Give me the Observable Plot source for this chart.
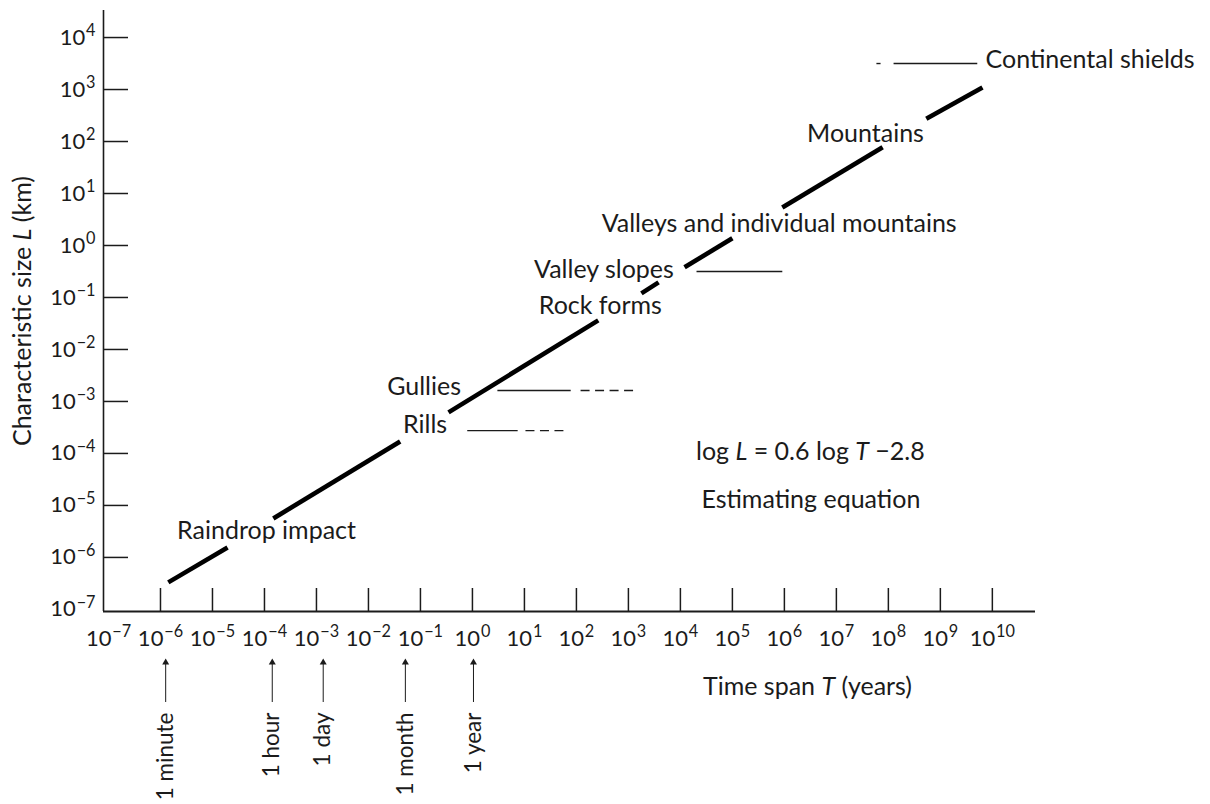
<!DOCTYPE html>
<html>
<head>
<meta charset="utf-8">
<script src="https://cdn.jsdelivr.net/npm/d3@7"></script>
<script src="https://cdn.jsdelivr.net/npm/@observablehq/plot@0.6"></script>
<style>
  html, body { margin: 0; padding: 0; background: #fff; }
  #chart svg { display: block; }
</style>
</head>
<body>
<div id="chart"></div>
<script>
// ---------- data (all positions are log10 exponents) ----------
// axis decades
const xTickExponents = [-7, -6, -5, -4, -3, -2, -1, 0, 1, 2, 3, 4, 5, 6, 7, 8, 9, 10];
const yTickExponents = [-7, -6, -5, -4, -3, -2, -1, 0, 1, 2, 3, 4];
const xDomainExponents = [-7.096, 10.83];
const yDomainExponents = [-7.04, 4.52];

// the broken regression line  log L = 0.6 log T − 2.8 (segment ends)
const lineStartT = [-5.85, -3.83, -0.46, 3.25, 4.08, 5.96, 8.73];
const lineStartL = [-6.48, -5.25, -3.21, -0.92, -0.42, 0.73, 2.44];
const lineEndT   = [-4.71, -1.39, 2.42, 3.58, 5.00, 7.89, 9.81];
const lineEndL   = [-5.81, -3.77, -1.44, -0.71, 0.14, 1.89, 3.04];

// horizontal ranges of landforms (solid = established, dashed = uncertain)
const rangeLandform = ["Continental shields", "Continental shields", "Valley slopes", "Gullies", "Gullies", "Rills", "Rills"];
const rangeL        = [3.50, 3.50, -0.50, -2.79, -2.79, -3.56, -3.56];
const rangeStartT   = [7.77, 8.10, 4.31, 0.48, 2.08, -0.10, 1.02];
const rangeEndT     = [7.85, 9.71, 5.96, 1.89, 3.10, 0.87, 1.75];
const rangeUncertain = [true, false, false, false, true, false, true];

// landform labels
const labelText = ["Raindrop impact", "Rills", "Gullies", "Rock forms", "Valley slopes",
                   "Valleys and individual mountains", "Mountains", "Continental shields"];
const labelT = [-3.96, -0.91, -0.93, 2.46, 2.53, 5.90, 7.56, 11.88];
const labelL = [-5.50, -3.46, -2.73, -1.17, -0.48, 0.42, 2.15, 3.56];

// equation annotation
const noteText = ["log *L* = 0.6 log *T* −2.8", "Estimating equation"];
const noteT = [6.50, 6.51];
const noteL = [-3.98, -4.90];

// reference time spans marked under the x axis
const eventName = ["1 minute", "1 hour", "1 day", "1 month", "1 year"];
const eventT = [-5.90, -3.85, -2.87, -1.29, 0.02];

const xTitle = "Time span *T* (years)";
const yTitle = "Characteristic size *L* (km)";

// ---------- tables built from the arrays ----------
const segments = lineStartT.map((t, i) => ({
  x1: 10 ** t, y1: 10 ** lineStartL[i], x2: 10 ** lineEndT[i], y2: 10 ** lineEndL[i]
}));
const ranges = rangeLandform.map((name, i) => ({
  name, x1: 10 ** rangeStartT[i], x2: 10 ** rangeEndT[i], y: 10 ** rangeL[i], uncertain: rangeUncertain[i]
}));
const labels = labelText.map((text, i) => ({text, x: 10 ** labelT[i], y: 10 ** labelL[i]}));
const notes = noteText.map((text, i) => ({text, x: 10 ** noteT[i], y: 10 ** noteL[i]}));
const events = eventName.map((name, i) => ({name, T: 10 ** eventT[i]}));

const supMinus = e => (e < 0 ? "−" + Math.abs(e) : String(e));
const powLabel = v => "10^" + supMinus(Math.round(Math.log10(v)));

const ink = "#1b1b1b";
const FONT = "Lato, 'Open Sans', sans-serif";
const LABEL_SIZE = 25;
const TICK_SIZE = 22;
const EVENT_SIZE = 22.5;

const plot = Plot.plot({
  width: 1210,
  height: 804,
  marginLeft: 103,
  marginRight: 175,
  marginTop: 10,
  marginBottom: 193,
  x: {type: "log", domain: xDomainExponents.map(e => 10 ** e)},
  y: {type: "log", domain: yDomainExponents.map(e => 10 ** e)},
  style: {fontFamily: FONT, fontSize: LABEL_SIZE + "px", color: ink, background: "#fff", overflow: "visible"},
  marks: [
    // axis lines
    Plot.ruleX([10 ** xDomainExponents[0]], {stroke: ink, strokeWidth: 1.6}),
    Plot.ruleY([10 ** yDomainExponents[0]], {stroke: ink, strokeWidth: 2}),
    // inward ticks
    Plot.axisX(xTickExponents.filter(e => e > -7).map(e => 10 ** e),
      {tickSize: -23, tickFormat: () => "", stroke: ink, strokeWidth: 1.5, label: null}),
    Plot.axisY(yTickExponents.filter(e => e > -7).map(e => 10 ** e),
      {tickSize: -25, tickFormat: () => "", stroke: ink, strokeWidth: 1.5, label: null}),
    // tick labels
    Plot.axisX(xTickExponents.map(e => 10 ** e),
      {tickSize: 0, tickPadding: 19, tickFormat: powLabel, fontSize: TICK_SIZE, fill: ink, label: null}),
    Plot.axisY(yTickExponents.map(e => 10 ** e),
      {tickSize: 0, tickPadding: 8, tickFormat: powLabel, fontSize: TICK_SIZE, fill: ink, label: null}),
    // axis titles
    Plot.text([yTitle], {frameAnchor: "left", dx: -81, rotate: -90, textAnchor: "middle", lineAnchor: "middle",
      fontSize: LABEL_SIZE, fill: ink}),
    Plot.text([xTitle], {frameAnchor: "bottom", dx: 238, dy: 75, textAnchor: "middle", lineAnchor: "middle",
      fontSize: LABEL_SIZE, fill: ink}),
    // landform ranges
    Plot.link(ranges.filter(d => !d.uncertain), {x1: "x1", x2: "x2", y1: "y", y2: "y", stroke: ink, strokeWidth: 1.4}),
    Plot.link(ranges.filter(d => d.uncertain), {x1: "x1", x2: "x2", y1: "y", y2: "y", stroke: ink, strokeWidth: 1.4, strokeDasharray: "9,5.5"}),
    // regression line (broken around labels)
    Plot.link(segments, {x1: "x1", y1: "y1", x2: "x2", y2: "y2", stroke: "#000", strokeWidth: 4.6, strokeLinecap: "butt"}),
    // labels
    Plot.text(labels, {x: "x", y: "y", text: "text", fontSize: LABEL_SIZE, fill: ink}),
    Plot.text(notes, {x: "x", y: "y", text: "text", fontSize: LABEL_SIZE, fill: ink}),
    // reference time spans below the axis
    Plot.ruleX(events, {x: "T", insetTop: 561, dy: 91, stroke: ink, strokeWidth: 1}),
    Plot.dot(events, {x: "T", frameAnchor: "bottom", dy: 51, symbol: "triangle", r: 2.6, fill: ink, stroke: "none"}),
    Plot.text(events, {x: "T", text: "name", frameAnchor: "bottom", dy: 101, rotate: -90,
      textAnchor: "end", lineAnchor: "middle", fontSize: EVENT_SIZE, fill: ink})
  ]
});

// rich text: superscripts (^) and italics (*...*)
d3.select(plot).selectAll("text").each(function () {
  const el = d3.select(this);
  if (this.querySelector("tspan")) return;
  const s = this.textContent;
  if (s.includes("^")) {
    const [base, sup] = s.split("^");
    el.text(null);
    el.append("tspan").text(base);
    el.append("tspan").attr("font-size", "0.74em").attr("dy", "-0.55em").attr("dx", "0.05em").text(sup);
  } else if (s.includes("*")) {
    const parts = s.split("*");
    el.text(null);
    parts.forEach((p, i) => {
      if (!p) return;
      const t = el.append("tspan").text(p);
      if (i % 2 === 1) t.attr("font-style", "italic");
    });
  }
});

document.getElementById("chart").append(plot);
</script>
</body>
</html>
